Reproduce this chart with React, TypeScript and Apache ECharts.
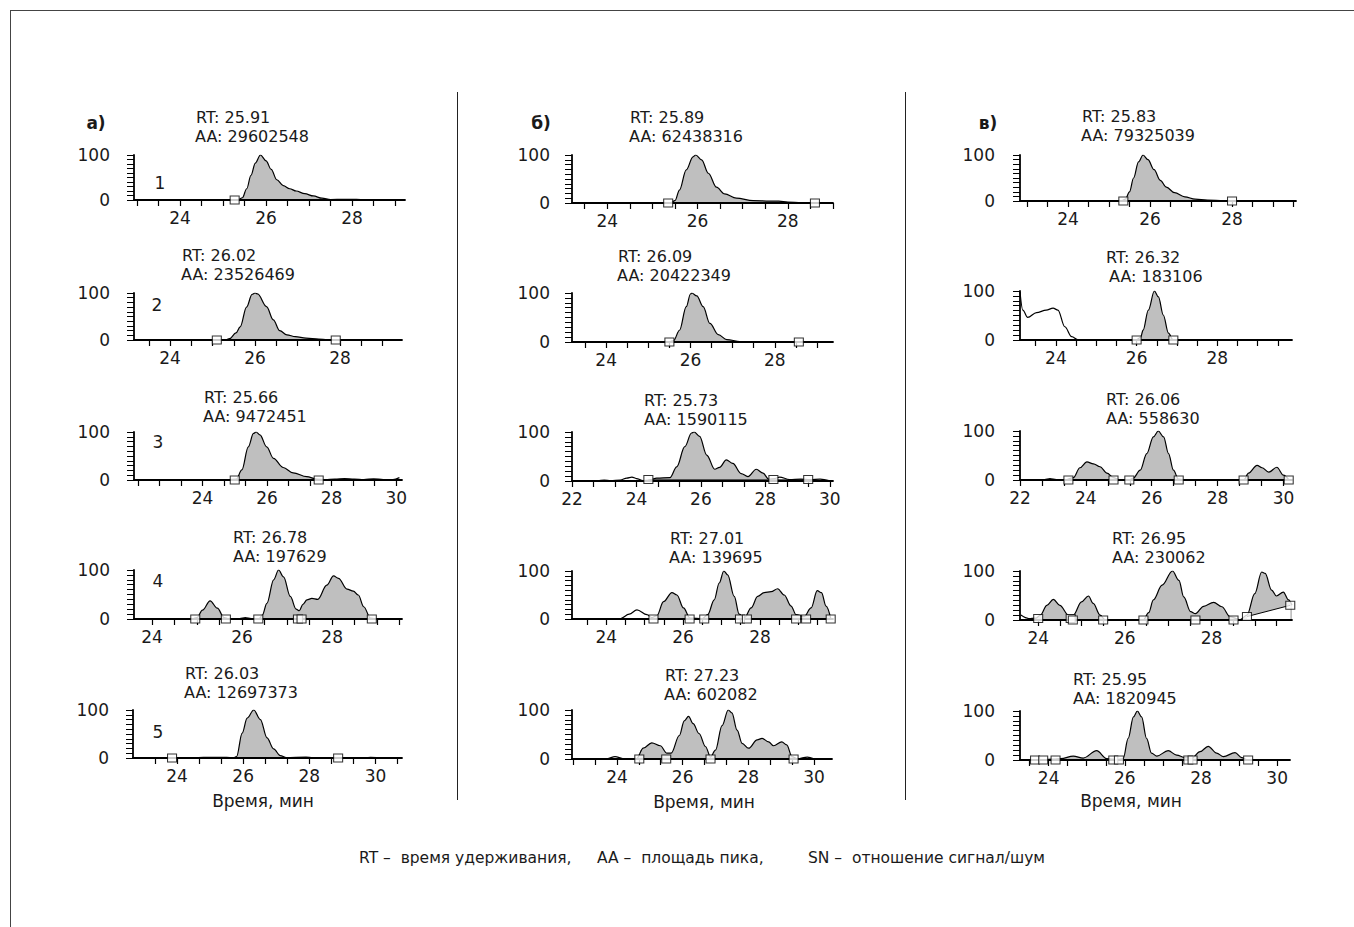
import React, { useEffect, useRef } from 'react';
import * as echarts from 'echarts';

const FONT = '"DejaVu Sans", Verdana, sans-serif';

// ---------- traces: [retention time, min ; relative abundance, %] ----------
const traceA1 = [[22.93,0.5],[25.35,0.5],[25.45,5],[25.55,25],[25.65,55],[25.75,82],[25.87,100],[26.0,87],[26.12,68],[26.25,45],[26.4,32],[26.55,25],[26.7,20],[26.9,14],[27.1,9],[27.3,4],[27.5,1],[27.8,1.5],[28.1,1.5],[28.3,0.5],[29.23,0.5]];
const traceA2 = [[23.15,0.5],[25.3,0.5],[25.4,3],[25.55,15],[25.65,28],[25.8,70],[25.93,97],[26.0,100],[26.06,98],[26.27,71],[26.43,43],[26.58,20],[26.75,11],[26.95,7],[27.2,4],[27.5,2],[27.7,1],[29.46,0.5]];
const traceA3 = [[22.4,0.5],[24.8,0.5],[25.05,2],[25.22,21],[25.42,69],[25.58,97],[25.66,100],[25.78,94],[25.99,69],[26.2,45],[26.5,26],[26.81,15],[27.23,7],[27.54,2],[27.8,1],[28.1,2],[28.4,3],[28.7,2],[29.0,1],[29.3,2.5],[29.6,1],[29.9,1],[30.1,5]];
const traceA4 = [[23.6,0.5],[24.9,0.5],[25.0,3],[25.12,18],[25.29,37],[25.45,22],[25.6,3],[25.7,0.5],[25.95,1],[26.07,3],[26.2,1],[26.38,1],[26.45,8],[26.55,32],[26.7,80],[26.81,100],[26.92,86],[27.07,46],[27.2,20],[27.27,17],[27.35,30],[27.44,39],[27.55,42],[27.68,40],[27.88,69],[28.03,88],[28.14,83],[28.33,61],[28.47,57],[28.58,49],[28.7,25],[28.85,2],[28.95,0.5],[29.55,0.5]];
const traceA5 = [[22.8,0.5],[24.5,0.5],[24.8,1.5],[25.5,1.5],[25.7,0.5],[25.8,3],[25.97,52],[26.12,83],[26.32,100],[26.52,80],[26.72,42],[26.92,19],[27.12,5],[27.3,1],[27.9,2],[28.1,0.5],[29.7,0.5],[29.85,1.5],[30.2,0.5]];

const traceB1 = [[23.4,0.5],[24.5,0.5],[25.4,0.5],[25.5,5],[25.6,27],[25.75,69],[25.9,96],[25.96,100],[26.09,90],[26.24,62],[26.42,33],[26.6,19],[26.86,10],[27.23,5],[27.6,4],[27.8,4],[28.0,2],[28.3,1],[28.6,0.5],[29.0,0.5]];
const traceB2 = [[23.3,0.5],[25.5,0.5],[25.6,3],[25.74,24],[25.9,72],[26.0,98],[26.03,100],[26.15,94],[26.3,72],[26.46,38],[26.66,15],[26.86,5],[27.17,1],[29.38,0.5]];
const traceB3 = [[22.55,0.5],[22.8,1],[23.0,2],[23.2,1],[23.5,2],[23.7,6],[23.86,8],[24.0,5],[24.2,1],[24.4,2],[24.63,6],[25.04,7],[25.25,29],[25.5,70],[25.71,98],[25.79,100],[25.96,91],[26.18,53],[26.43,24],[26.58,28],[26.79,43],[26.99,36],[27.25,15],[27.46,9],[27.72,24],[27.93,16],[28.1,4],[28.3,5],[28.44,8],[28.75,3],[29.1,4],[29.4,3],[29.7,4],[30.0,0.5]];
const traceB4 = [[23.2,0.5],[24.36,0.5],[24.6,10],[24.8,19],[25.06,9],[25.19,3],[25.32,7],[25.49,36],[25.71,55],[25.84,50],[26.01,23],[26.18,2],[26.5,1],[26.64,9],[26.81,40],[26.94,75],[27.06,100],[27.16,92],[27.33,47],[27.46,10],[27.6,3],[27.77,23],[27.94,47],[28.11,55],[28.29,57],[28.46,63],[28.63,50],[28.81,27],[28.94,9],[29.15,5],[29.33,23],[29.49,59],[29.6,55],[29.72,27],[29.84,2]];
const traceB5 = [[22.73,0.5],[23.7,0.5],[23.94,5],[24.2,0.5],[24.6,1],[24.8,22],[25.06,33],[25.32,27],[25.52,12],[25.65,12],[25.9,48],[26.05,78],[26.18,87],[26.32,72],[26.5,52],[26.7,25],[26.85,4],[27.0,18],[27.2,68],[27.39,100],[27.5,94],[27.66,59],[27.81,32],[28.01,22],[28.27,39],[28.42,42],[28.62,35],[28.77,27],[29.02,35],[29.17,29],[29.33,5],[29.5,0.5],[29.8,4],[30.0,0.5]];

const traceC1 = [[22.9,0.5],[25.3,0.5],[25.4,4],[25.5,20],[25.6,50],[25.72,85],[25.83,100],[25.95,90],[26.1,68],[26.25,45],[26.4,30],[26.6,18],[26.85,9],[27.1,4],[27.4,2],[27.8,1],[28.1,0.5],[29.5,0.5]];
const traceC2 = [[23.11,98],[23.18,61],[23.3,46],[23.52,56],[23.76,61],[23.93,65],[24.05,61],[24.22,27],[24.39,7],[24.55,0.5],[26.0,0.5],[26.1,6],[26.16,20],[26.29,61],[26.44,100],[26.54,88],[26.66,51],[26.79,14],[26.9,0.5],[29.85,0.5]];
const traceC3 = [[22.5,0.5],[22.75,1],[22.91,3],[23.1,1],[23.4,0.5],[23.62,5],[23.82,25],[24.03,37],[24.23,33],[24.43,27],[24.64,14],[24.84,5],[25.0,1],[25.32,0.5],[25.44,4],[25.65,20],[25.85,54],[26.05,88],[26.2,100],[26.36,88],[26.51,54],[26.66,20],[26.81,2],[26.95,0.5],[28.8,0.5],[28.94,14],[29.2,30],[29.35,25],[29.55,16],[29.8,26],[30.0,10],[30.16,1]];
const traceC4 = [[23.6,10],[23.78,3],[23.95,4],[24.05,10],[24.2,30],[24.35,42],[24.5,30],[24.7,10],[24.81,10],[25.0,37],[25.16,49],[25.27,34],[25.43,10],[25.54,1],[25.8,0.5],[26.43,0.5],[26.55,15],[26.66,41],[26.86,71],[27.1,100],[27.25,81],[27.36,47],[27.52,17],[27.63,13],[27.82,28],[28.05,36],[28.24,27],[28.43,7],[28.66,0.5],[28.82,10],[29.0,54],[29.16,98],[29.24,95],[29.39,61],[29.5,49],[29.66,57],[29.78,41],[29.86,30]];
const traceC5 = [[23.485,0.5],[23.857,1],[24.136,2],[24.322,3],[24.647,8],[24.907,4],[25.261,19],[25.521,3],[25.809,1],[25.958,3],[26.088,44],[26.227,88],[26.33,100],[26.441,88],[26.571,44],[26.702,14],[26.841,8],[27.138,19],[27.362,10],[27.575,5],[27.761,4],[27.975,17],[28.189,28],[28.412,14],[28.589,7],[28.895,15],[29.072,5],[29.202,1],[29.899,0.5]];

// ---------- integrated (filled) ranges, min ----------
const fillA1 = [[25.35, 27.5]];
const fillA2 = [[25.3, 27.7]];
const fillA3 = [[24.8, 27.54]];
const fillA4 = [[24.9, 25.7], [26.38, 28.95]];
const fillA5 = [[25.7, 27.3]];
const fillB1 = [[25.4, 28.6]];
const fillB2 = [[25.5, 27.17]];
const fillB3 = [[24.4, 28.1]];
const fillB4 = [[25.19, 26.18], [26.5, 29.84]];
const fillB5 = [[24.6, 29.5]];
const fillC1 = [[25.3, 28.1]];
const fillC2 = [[26.0, 26.9]];
const fillC3 = [[23.4, 25.0], [25.32, 26.95], [28.8, 30.16]];
const fillC4 = [[23.95, 25.54], [26.43, 28.66], [28.82, 29.86]];
const fillC5 = [[23.857, 29.202]];

// ---------- peak boundary markers [time, level] ----------
const markA1 = [[25.27,0]];
const markA2 = [[25.1,0],[27.9,0]];
const markA3 = [[25.0,0],[27.6,0]];
const markA4 = [[24.96,0],[25.64,0],[26.36,0],[27.24,0],[27.32,0],[28.88,0]];
const markA5 = [[23.85,0],[28.87,0]];
const markB1 = [[25.35,0],[28.6,0]];
const markB2 = [[25.5,0],[28.57,0]];
const markB3 = [[24.37,3],[28.25,3],[29.33,3]];
const markB4 = [[25.23,0],[26.17,0],[26.55,0],[27.48,0],[27.66,0],[28.94,0],[29.2,0],[29.84,0]];
const markB5 = [[24.68,0],[25.5,0],[26.85,0],[29.38,0]];
const markC1 = [[25.35,0],[28.0,0]];
const markC2 = [[26.0,0],[26.91,0]];
const markC3 = [[23.47,0],[24.84,0],[25.32,0],[26.82,0],[28.79,0],[30.16,0]];
const markC4 = [[24.0,3],[24.75,3],[24.8,0],[25.5,0],[26.43,0],[27.63,0],[28.51,0],[28.82,7],[29.82,30]];
const markC5 = [[23.643,0],[23.857,0],[24.182,0],[25.698,0],[25.846,0],[27.668,0],[27.78,0],[29.239,0]];

// integration baselines drawn as thin lines
const baseB3 = [[24.37,3],[29.33,3]];
const baseC4 = [[28.82,7],[29.82,30]];

// ---------- axis ranges & tick labels ----------
const xRanges = [
  [22.93,29.23],[23.15,29.46],[21.88,30.18],[23.6,29.55],[22.67,30.8],
  [23.22,29.0],[23.19,29.38],[22.0,30.1],[23.11,29.9],[22.63,30.55],
  [22.83,29.56],[23.11,29.85],[22.0,30.26],[23.58,29.86],[23.248,30.338],
];
const xLabels = [
  [24,26,28],[24,26,28],[24,26,28,30],[24,26,28],[24,26,28,30],
  [24,26,28],[24,26,28],[22,24,26,28,30],[24,26,28],[24,26,28,30],
  [24,26,28],[24,26,28],[22,24,26,28,30],[24,26,28],[24,26,28,30],
];
const yLabels = [0, 100];
const tickSteps = [0.5,0.5,2/3,0.5,2/3, 0.5,0.5,2/3,0.5,2/3, 0.5,0.5,2/3,0.5,0.5];

// ---------- texts ----------
const rtLabels = ['RT: 25.91','RT: 26.02','RT: 25.66','RT: 26.78','RT: 26.03',
  'RT: 25.89','RT: 26.09','RT: 25.73','RT: 27.01','RT: 27.23',
  'RT: 25.83','RT: 26.32','RT: 26.06','RT: 26.95','RT: 25.95'];
const aaLabels = ['AA: 29602548','AA: 23526469','AA: 9472451','AA: 197629','AA: 12697373',
  'AA: 62438316','AA: 20422349','AA: 1590115','AA: 139695','AA: 602082',
  'AA: 79325039','AA: 183106','AA: 558630','AA: 230062','AA: 1820945'];
const columnTitles = ['а)', 'б)', 'в)'];
const rowNumbers = ['1', '2', '3', '4', '5'];
const axisTitle = 'Время, мин';
const footer = ['RT –  время удерживания,', 'AA –  площадь пика,', 'SN –  отношение сигнал/шум'];

const traces = [traceA1,traceA2,traceA3,traceA4,traceA5,traceB1,traceB2,traceB3,traceB4,traceB5,traceC1,traceC2,traceC3,traceC4,traceC5];
const fills = [fillA1,fillA2,fillA3,fillA4,fillA5,fillB1,fillB2,fillB3,fillB4,fillB5,fillC1,fillC2,fillC3,fillC4,fillC5];
const marks = [markA1,markA2,markA3,markA4,markA5,markB1,markB2,markB3,markB4,markB5,markC1,markC2,markC3,markC4,markC5];

// ---------- layout (pixels) ----------
// [left, top(100%), right, bottom(0%)]
const boxes = [
  [134,155,405,200],[134,293,402,340],[134,432,402,480],[134,570,402,619],[133,710,402,758],
  [572,155,833,203],[572,293,833,342],[572,432,833,481],[572,571,833,619],[572,710,832,759],
  [1020,155,1296,201],[1020,291,1292,340],[1020,431,1292,480],[1020,571,1292,620],[1020,711,1290,760],
];
const yLabelMargin = [24, 22, 25];
// [rtX, aaX, centre y] of the RT / AA pair
const rtPos = [
  [196,195,127],[182,181,265],[204,203,407],[233,233,547],[185,184,683],
  [630,629,127],[618,617,266],[644,644,410],[670,669,548],[665,664,685],
  [1082,1081,126],[1106,1109,267],[1106,1106,409],[1112,1112,548],[1073,1073,689],
];
const RT_FONT = 16;
const LINE_GAP = 19;
const titlePos = [[96,123],[541,123],[988,123]];
const rowNumPos = [[160,183],[157,305],[158,442],[158,581],[158,732]];
const axisTitlePos = [[263,801],[704,802],[1131,801]];
const footerPos = [[359,858],[597,858],[808,858]];

function makeTicks(min: number, max: number, step: number) {
  const out: number[] = [];
  const k0 = Math.ceil(min / step - 1e-6);
  for (let k = k0; k * step <= max + 1e-6; k++) out.push(Math.round(k * step * 1000) / 1000);
  return out;
}

function fillData(trace: number[][], ranges: number[][]) {
  return trace.map(([t, y]) =>
    ranges.some(([a, b]) => t >= a - 1e-6 && t <= b + 1e-6) ? [t, y] : [t, '-']
  );
}

function buildOption() {
  const grid: any[] = [];
  const xAxis: any[] = [];
  const yAxis: any[] = [];
  const series: any[] = [];
  boxes.forEach((b, i) => {
    const col = Math.floor(i / 5);
    grid.push({ left: b[0], top: b[1], width: b[2] - b[0], height: b[3] - b[1], containLabel: false });
    const [mn, mx] = xRanges[i];
    xAxis.push({
      type: 'value', gridIndex: i, min: mn, max: mx, z: 5,
      axisLine: { show: true, onZero: false, lineStyle: { color: '#000', width: 1.8 } },
      axisTick: { show: true, inside: false, length: 6, customValues: makeTicks(mn, mx, tickSteps[i]), lineStyle: { color: '#000', width: 1.2 } },
      axisLabel: { show: true, customValues: xLabels[i], fontSize: 17, color: '#1a1a1a', fontFamily: FONT, margin: 9, showMinLabel: true, showMaxLabel: true },
      splitLine: { show: false },
    });
    yAxis.push({
      type: 'value', gridIndex: i, min: 0, max: 100, interval: 10, z: 5,
      axisLine: { show: true, onZero: false, lineStyle: { color: '#000', width: 1.8 } },
      axisTick: { show: true, inside: false, length: 7, lineStyle: { color: '#000', width: 1 } },
      axisLabel: { show: true, customValues: yLabels, fontSize: 17, color: '#1a1a1a', fontFamily: FONT, margin: yLabelMargin[col] },
      splitLine: { show: false },
    });
    series.push({
      type: 'line', xAxisIndex: i, yAxisIndex: i, data: fillData(traces[i], fills[i]),
      smooth: 0.35, smoothMonotone: 'x', symbol: 'none', connectNulls: false,
      lineStyle: { width: 0, color: '#bdbdbd' }, areaStyle: { color: '#bfbfbf', opacity: 1 }, z: 2, silent: true,
    });
    series.push({
      type: 'line', xAxisIndex: i, yAxisIndex: i, data: traces[i],
      smooth: 0.35, smoothMonotone: 'x', symbol: 'none',
      lineStyle: { width: 1.2, color: '#000' }, z: 4, silent: true,
    });
    series.push({
      type: 'scatter', xAxisIndex: i, yAxisIndex: i, data: marks[i],
      symbol: 'rect', symbolSize: [9, 8],
      itemStyle: { color: '#fff', borderColor: '#000', borderWidth: 1 }, z: 6, silent: true,
    });
  });
  // integration baselines
  series.push({
    type: 'line', xAxisIndex: 7, yAxisIndex: 7, data: baseB3, symbol: 'none',
    lineStyle: { width: 0.8, color: '#333' }, z: 3, silent: true,
  });
  series.push({
    type: 'line', xAxisIndex: 13, yAxisIndex: 13, data: baseC4, symbol: 'none',
    lineStyle: { width: 1, color: '#000' }, areaStyle: { color: '#fff', opacity: 1 }, z: 3, silent: true,
  });

  const graphic: any[] = [];
  const txt = (text: string, x: number, y: number, size: number, align = 'left', weight = 'normal') => ({
    type: 'text', x, y, silent: true,
    style: { text, fill: '#1a1a1a', font: `${weight} ${size}px ${FONT}`, textAlign: align, textVerticalAlign: 'middle' },
  });
  // frame & separators
  graphic.push({ type: 'line', silent: true, shape: { x1: 10, y1: 10.5, x2: 1354, y2: 10.5 }, style: { stroke: '#444', lineWidth: 1 } });
  graphic.push({ type: 'line', silent: true, shape: { x1: 10.5, y1: 10, x2: 10.5, y2: 927 }, style: { stroke: '#444', lineWidth: 1 } });
  graphic.push({ type: 'line', silent: true, shape: { x1: 457.5, y1: 92, x2: 457.5, y2: 800 }, style: { stroke: '#222', lineWidth: 1 } });
  graphic.push({ type: 'line', silent: true, shape: { x1: 905.5, y1: 92, x2: 905.5, y2: 800 }, style: { stroke: '#222', lineWidth: 1 } });
  columnTitles.forEach((t, c) => graphic.push(txt(t, titlePos[c][0], titlePos[c][1], 17, 'center', 'bold')));
  rowNumbers.forEach((t, r) => graphic.push(txt(t, rowNumPos[r][0], rowNumPos[r][1], 17, 'center')));
  rtLabels.forEach((t, i) => {
    const [xr, xa, mid] = rtPos[i];
    graphic.push(txt(t, xr, mid - LINE_GAP / 2, RT_FONT));
    graphic.push(txt(aaLabels[i], xa, mid + LINE_GAP / 2, RT_FONT));
  });
  axisTitlePos.forEach((p) => graphic.push(txt(axisTitle, p[0], p[1], 17, 'center')));
  footer.forEach((t, k) => graphic.push(txt(t, footerPos[k][0], footerPos[k][1], 15.5)));

  return {
    animation: false,
    backgroundColor: '#fff',
    textStyle: { fontFamily: FONT },
    grid, xAxis, yAxis, series, graphic,
  };
}

export default function App() {
  const ref = useRef<HTMLDivElement>(null);
  useEffect(() => {
    if (!ref.current) return;
    const chart = echarts.init(ref.current, undefined, { renderer: 'svg' });
    chart.setOption(buildOption() as any);
    return () => chart.dispose();
  }, []);
  return <div ref={ref} style={{ position: 'fixed', left: 0, top: 0, width: 1354, height: 927, background: '#fff' }} />;
}
